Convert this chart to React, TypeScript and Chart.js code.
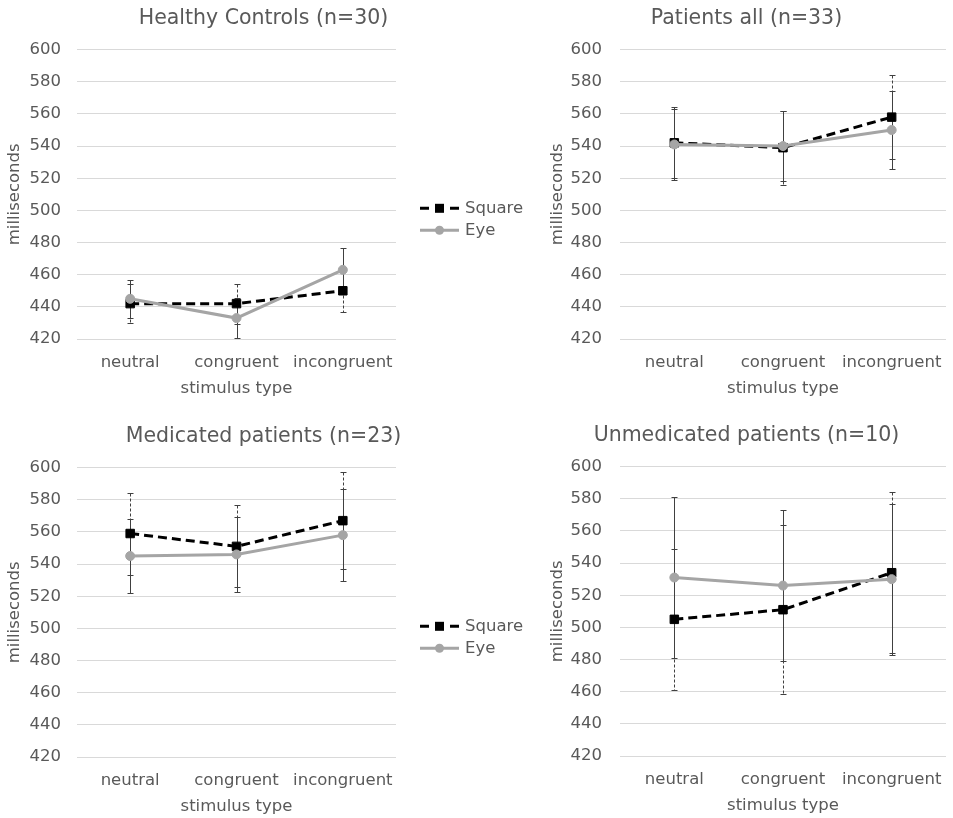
import React, { useEffect, useRef } from 'react';
import { Chart, registerables } from 'chart.js';

Chart.register(...registerables);

// ---- data ----
const categories = ['neutral', 'congruent', 'incongruent'];
const yMin = 420;
const yMax = 600;
const yStep = 20;
const seriesNames = ['Square', 'Eye'];

const hcTitle = 'Healthy Controls (n=30)';
const hcSquare = [442, 442, 450];
const hcSquareErr = [12, 12.5, 13];
const hcEye = [445, 433, 463];
const hcEyeErr = [12, 12.5, 13.5];

const paTitle = 'Patients all (n=33)';
const paSquare = [542, 539, 558];
const paSquareErr = [22, 23, 26];
const paEye = [541, 540, 550];
const paEyeErr = [22, 22, 24];

const mpTitle = 'Medicated patients (n=23)';
const mpSquare = [559, 551, 567];
const mpSquareErr = [25.5, 25.5, 30];
const mpEye = [545, 546, 558];
const mpEyeErr = [23, 23.5, 28.5];

const upTitle = 'Unmedicated patients (n=10)';
const upSquare = [505, 511, 534];
const upSquareErr = [44, 52.5, 50];
const upEye = [531, 526, 530];
const upEyeErr = [50, 47, 47];

const FONT = "'DejaVu Sans', Verdana, sans-serif";
const TEXT = '#595959';
const SQUARE_COLOR = '#000000';
const EYE_COLOR = '#a5a5a5';

const errorBarPlugin = {
  id: 'errorBars',
  beforeDatasetsDraw(chart: any) {
    const ctx = chart.ctx;
    const yScale = chart.scales.y;
    chart.data.datasets.forEach((ds: any, i: number) => {
      const meta = chart.getDatasetMeta(i);
      if (!ds.errors) return;
      ctx.save();
      ctx.strokeStyle = '#404040';
      ctx.lineWidth = 1;
      meta.data.forEach((pt: any, j: number) => {
        const v = ds.data[j];
        const e = ds.errors[j];
        const x = Math.round(pt.x) + 0.5;
        const yt = Math.round(yScale.getPixelForValue(v + e)) + 0.5;
        const yb = Math.round(yScale.getPixelForValue(v - e)) + 0.5;
        ctx.setLineDash(ds.errDash || []);
        ctx.beginPath();
        ctx.moveTo(x, yt);
        ctx.lineTo(x, yb);
        ctx.stroke();
        ctx.setLineDash([]);
        ctx.beginPath();
        ctx.moveTo(x - 3, yt);
        ctx.lineTo(x + 3, yt);
        ctx.moveTo(x - 3, yb);
        ctx.lineTo(x + 3, yb);
        ctx.stroke();
      });
      ctx.restore();
    });
  },
};

const sideLegendPlugin = {
  id: 'sideLegend',
  afterDraw(chart: any, _args: any, opts: any) {
    if (!opts || !opts.show) return;
    const ctx = chart.ctx;
    const ca = chart.chartArea;
    const x0 = ca.right + 24;
    const cy = (ca.top + ca.bottom) / 2;
    const ySq = cy + 14;
    const yEye = cy + 36;
    ctx.save();
    // Square
    ctx.strokeStyle = SQUARE_COLOR;
    ctx.lineWidth = 3;
    ctx.beginPath();
    ctx.moveTo(x0, ySq);
    ctx.lineTo(x0 + 9, ySq);
    ctx.moveTo(x0 + 30, ySq);
    ctx.lineTo(x0 + 39, ySq);
    ctx.stroke();
    ctx.fillStyle = SQUARE_COLOR;
    ctx.fillRect(x0 + 15, ySq - 4.5, 9, 9);
    // Eye
    ctx.strokeStyle = EYE_COLOR;
    ctx.beginPath();
    ctx.moveTo(x0, yEye);
    ctx.lineTo(x0 + 39, yEye);
    ctx.stroke();
    ctx.fillStyle = EYE_COLOR;
    ctx.beginPath();
    ctx.arc(x0 + 19.5, yEye, 4.5, 0, Math.PI * 2);
    ctx.fill();
    // text
    ctx.fillStyle = TEXT;
    ctx.font = `16.5px ${FONT}`;
    ctx.textBaseline = 'middle';
    ctx.textAlign = 'left';
    ctx.fillText(seriesNames[0], x0 + 45, ySq);
    ctx.fillText(seriesNames[1], x0 + 45, yEye);
    ctx.restore();
  },
};

type PanelProps = {
  title: string;
  square: number[];
  squareErr: number[];
  eye: number[];
  eyeErr: number[];
  legend: boolean;
  left: number;
  top: number;
  width: number;
  height: number;
  yWidth: number;
  yTitlePad: number;
  tickPad: number;
  rightSpace: number;
};

function Panel(p: PanelProps) {
  const ref = useRef<HTMLCanvasElement | null>(null);
  useEffect(() => {
    if (!ref.current) return;
    const chart = new Chart(ref.current, {
      type: 'line',
      data: {
        labels: categories,
        datasets: [
          {
            label: seriesNames[0],
            data: p.square,
            errors: p.squareErr,
            errDash: [3, 2],
            borderColor: SQUARE_COLOR,
            backgroundColor: SQUARE_COLOR,
            borderWidth: 3,
            borderDash: [9, 5],
            pointStyle: 'rect',
            pointRadius: 6,
            pointBorderWidth: 1,
            pointBackgroundColor: SQUARE_COLOR,
            pointBorderColor: SQUARE_COLOR,
            order: 2,
            tension: 0,
          } as any,
          {
            label: seriesNames[1],
            data: p.eye,
            errors: p.eyeErr,
            errDash: [],
            borderColor: EYE_COLOR,
            backgroundColor: EYE_COLOR,
            borderWidth: 3,
            pointStyle: 'circle',
            pointRadius: 4.5,
            pointBorderWidth: 1,
            pointBackgroundColor: EYE_COLOR,
            pointBorderColor: EYE_COLOR,
            order: 1,
            tension: 0,
          } as any,
        ],
      },
      options: {
        animation: false,
        responsive: false,
        maintainAspectRatio: false,
        layout: { padding: 0 },
        plugins: {
          legend: { display: false },
          tooltip: { enabled: false },
          title: {
            display: true,
            text: p.title,
            color: TEXT,
            font: { family: FONT, size: 20.5, weight: 'normal' },
            padding: { top: 6, bottom: 19 },
          },
          sideLegend: { show: p.legend },
        } as any,
        scales: {
          x: {
            type: 'category',
            offset: true,
            grid: { display: false, drawTicks: false },
            border: { display: false },
            ticks: {
              color: TEXT,
              font: { family: FONT, size: 16.5 },
              padding: 14,
              autoSkip: false,
              maxRotation: 0,
            },
            title: {
              display: true,
              text: 'stimulus type',
              color: TEXT,
              font: { family: FONT, size: 16.5 },
              padding: { top: 0, bottom: 1 },
            },
            afterFit(scale: any) {
              scale.height = 61;
              scale.paddingLeft = 0;
              scale.paddingRight = 0;
            },
          },
          y: {
            min: yMin,
            max: yMax,
            grid: { color: '#d9d9d9', lineWidth: 1, drawTicks: false },
            border: { display: false },
            ticks: {
              stepSize: yStep,
              color: TEXT,
              font: { family: FONT, size: 16.5 },
              padding: p.tickPad,
            },
            title: {
              display: true,
              text: 'milliseconds',
              color: TEXT,
              font: { family: FONT, size: 16.5 },
              padding: { top: p.yTitlePad, bottom: 0 },
            },
            afterFit(scale: any) {
              scale.width = p.yWidth;
            },
          },
          spacer: {
            type: 'linear',
            position: 'right',
            display: true,
            grid: { display: false, drawTicks: false },
            border: { display: false },
            ticks: { display: false },
            afterFit(scale: any) {
              scale.width = p.rightSpace;
              scale.paddingTop = 0;
              scale.paddingBottom = 0;
            },
          },
        },
      },
      plugins: [errorBarPlugin, sideLegendPlugin],
    });
    return () => chart.destroy();
  }, []);
  return (
    <canvas
      ref={ref}
      width={p.width}
      height={p.height}
      style={{ position: 'absolute', left: p.left, top: p.top, width: p.width, height: p.height }}
    />
  );
}

export default function App() {
  return (
    <div style={{ position: 'absolute', left: 0, top: 0, width: 953, height: 818, background: '#ffffff', overflow: 'hidden' }}>
      <Panel title={hcTitle} square={hcSquare} squareErr={hcSquareErr} eye={hcEye} eyeErr={hcEyeErr}
        legend={true} left={0} top={0} width={527} height={400} yWidth={77} yTitlePad={5} tickPad={16} rightSpace={131} />
      <Panel title={paTitle} square={paSquare} squareErr={paSquareErr} eye={paEye} eyeErr={paEyeErr}
        legend={false} left={540} top={0} width={413} height={400} yWidth={80} yTitlePad={7.5} tickPad={18} rightSpace={4} />
      <Panel title={mpTitle} square={mpSquare} squareErr={mpSquareErr} eye={mpEye} eyeErr={mpEyeErr}
        legend={true} left={0} top={418} width={527} height={400} yWidth={77} yTitlePad={5} tickPad={16} rightSpace={131} />
      <Panel title={upTitle} square={upSquare} squareErr={upSquareErr} eye={upEye} eyeErr={upEyeErr}
        legend={false} left={540} top={417} width={413} height={400} yWidth={80} yTitlePad={7.5} tickPad={18} rightSpace={5} />
    </div>
  );
}
